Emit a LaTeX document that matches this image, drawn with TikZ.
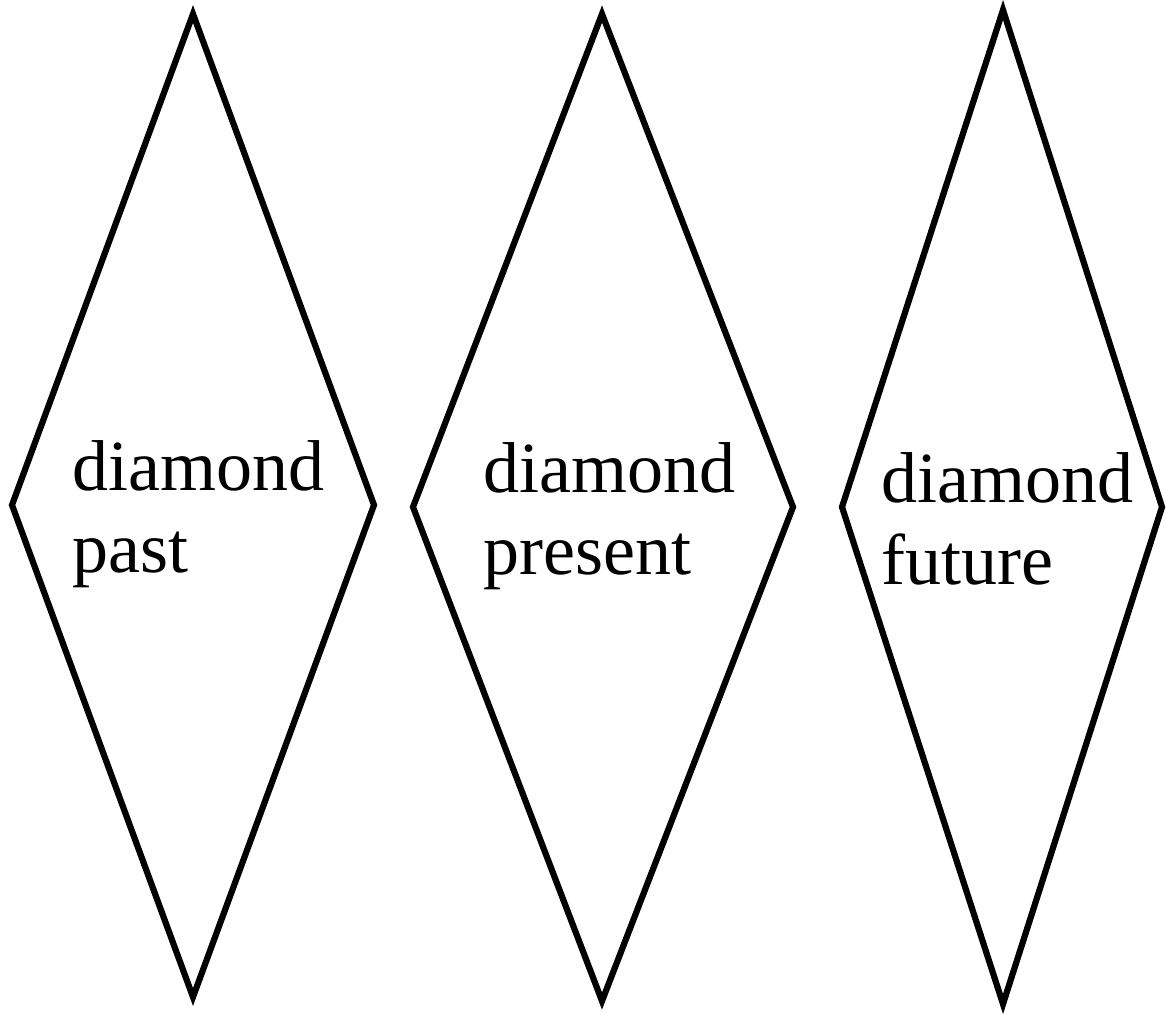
\documentclass[tikz,border=0pt]{standalone}
\usepackage{fontspec}
\setmainfont{Liberation Serif}
\begin{document}
\begin{tikzpicture}[x=1pt,y=-1pt,
  shapeline/.style={draw=black,line width=6.2pt,line join=miter},
  lbl/.style={anchor=base west,inner sep=0pt,align=left,font=\fontsize{72}{82}\selectfont}]
\useasboundingbox (0,0) rectangle (1166,1013);
% diamond past
\coordinate (p1t) at (193,14);
\coordinate (p1r) at (374,505);
\coordinate (p1b) at (193,997);
\coordinate (p1l) at (12,505);
\draw[shapeline] (p1t) -- (p1r) -- (p1b) -- (p1l) -- cycle;
% diamond present
\coordinate (p2t) at (602,14);
\coordinate (p2r) at (793,507);
\coordinate (p2b) at (602,1001);
\coordinate (p2l) at (413,507);
\draw[shapeline] (p2t) -- (p2r) -- (p2b) -- (p2l) -- cycle;
% diamond future
\coordinate (p3t) at (1003,10);
\coordinate (p3r) at (1162,507);
\coordinate (p3b) at (1003,1004);
\coordinate (p3l) at (842,507);
\draw[shapeline] (p3t) -- (p3r) -- (p3b) -- (p3l) -- cycle;
\node[lbl] (t1) at (72,572) {diamond\\past};
\node[lbl] (t2) at (483,574) {diamond\\present};
\node[lbl] (t3) at (881,584) {diamond\\future};
\end{tikzpicture}
\end{document}
